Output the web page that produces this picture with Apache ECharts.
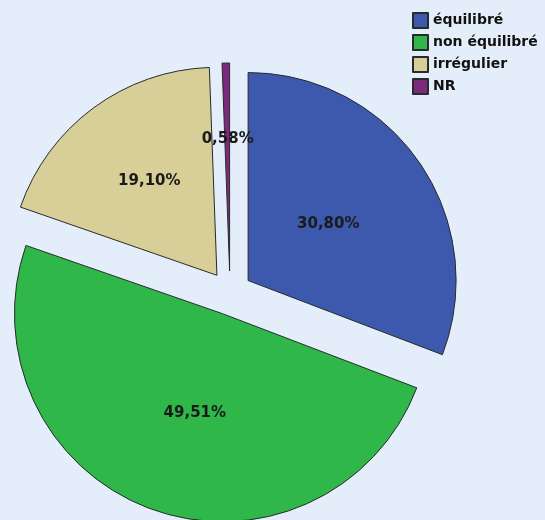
<!DOCTYPE html>
<html><head><meta charset="utf-8">
<script src="https://cdn.jsdelivr.net/npm/echarts@6/dist/echarts.min.js"></script>
<style>html,body{margin:0;padding:0;background:#E3EEFA}#c{width:545px;height:520px}</style>
</head><body><div id="c"></div>
<script>
const categories = ['équilibré', 'non équilibré', 'irrégulier', 'NR'];
const values = [30.80, 49.51, 19.10, 0.58];
const colors = ['#3D59AE', '#2FB74A', '#D8CE97', '#7D2A7C'];
// small label nudges (pixels) to match the reference label placement
const labelShift = [[-8, 4], [9, -1], [-4, -8], [0, -25]];

const chart = echarts.init(document.getElementById('c'));
chart.setOption({
  backgroundColor: '#E3EEFA',
  animation: false,
  legend: {
    orient: 'vertical', left: 412, top: 12, padding: 0,
    itemWidth: 15, itemHeight: 15, itemGap: 5, itemTextGap: 3,
    icon: 'rect',
    textStyle: { fontFamily: 'DejaVu Sans', fontWeight: 'bold', fontSize: 14, lineHeight: 15, color: '#111' },
    data: categories
  },
  series: [{
    type: 'pie',
    center: [230, 293],
    radius: [0, 208],
    startAngle: 90,
    clockwise: true,
    selectedMode: 'multiple',
    selectedOffset: 22,
    silent: true,
    itemStyle: { borderColor: '#2a2a2a', borderWidth: 1 },
    label: {
      position: 'inside',
      fontFamily: 'DejaVu Sans', fontWeight: 'bold', fontSize: 15, color: '#1a1a1a',
      formatter: p => p.value.toFixed(2).replace('.', ',') + '%'
    },
    labelLayout: p => ({ dx: labelShift[p.dataIndex][0], dy: labelShift[p.dataIndex][1] }),
    labelLine: { show: false },
    data: categories.map((c, i) => ({ name: c, value: values[i], selected: true, itemStyle: { color: colors[i] } }))
  }]
});
</script></body></html>
